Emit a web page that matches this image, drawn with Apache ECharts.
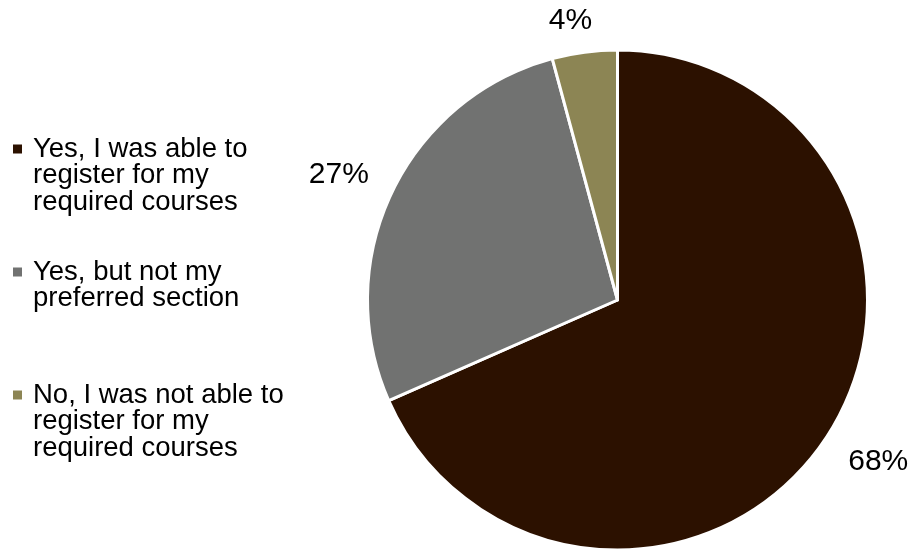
<!DOCTYPE html>
<html>
<head>
<meta charset="utf-8">
<script src="https://cdn.jsdelivr.net/npm/echarts@6/dist/echarts.min.js"></script>
<style>
  html, body { margin: 0; padding: 0; background: #fff; }
  #chart { width: 911px; height: 552px; }
</style>
</head>
<body>
<div id="chart"></div>
<script>
// ---- data ----
const categories = [
  'Yes, I was able to\nregister for my\nrequired courses',
  'Yes, but not my\npreferred section',
  'No, I was not able to\nregister for my\nrequired courses'
];
const values = [68.4, 27.4, 4.2];
const colors = ['#2C1100', '#717271', '#8C8554'];

// ---- layout constants ----
const CX = 617.5, CY = 300, R = 250;
const FONT = 'Liberation Sans, Arial, sans-serif';
const LABEL_GAP = 22;
const labelNudge = [[5, -5], [-3, 7], [-9, 8]];

const total = values.reduce((a, b) => a + b, 0);
const midAngles = [];
{
  let acc = 0;
  values.forEach(v => {
    const a0 = acc / total * 2 * Math.PI;
    acc += v;
    const a1 = acc / total * 2 * Math.PI;
    midAngles.push((a0 + a1) / 2);
  });
}

const rich = {
  g: { width: 11 },
  ind: { width: 20 },
  t: { fontSize: 27.5, lineHeight: 26.5, color: '#000', fontFamily: FONT }
};
colors.forEach((c, i) => {
  rich['m' + i] = { width: 9, height: 9, backgroundColor: c, verticalAlign: 'middle' };
});

const chart = echarts.init(document.getElementById('chart'), null, { renderer: 'canvas' });
chart.setOption({
  animation: false,
  backgroundColor: '#fff',
  color: colors,
  legend: {
    orient: 'vertical',
    left: 8,
    top: 135,
    padding: 0,
    itemGap: 42,
    itemWidth: 0,
    itemHeight: 0,
    icon: 'none',
    selectedMode: false,
    data: categories,
    formatter: function (name) {
      const idx = categories.indexOf(name);
      const lines = name.split('\n');
      let s = '{m' + idx + '|}{g|}{t|' + lines[0] + '}';
      for (let k = 1; k < lines.length; k++) s += '\n{ind|}{t|' + lines[k] + '}';
      for (let k = lines.length; k < 3; k++) s += '\n{t| }';
      return s;
    },
    textStyle: { rich: rich }
  },
  series: [{
    type: 'pie',
    center: [CX, CY],
    radius: R,
    startAngle: 90,
    clockwise: true,
    avoidLabelOverlap: false,
    silent: true,
    itemStyle: { borderColor: '#fff', borderWidth: 3 },
    label: {
      show: true,
      position: 'outside',
      fontSize: 30,
      fontFamily: FONT,
      color: '#000',
      formatter: p => Math.round(p.percent) + '%'
    },
    labelLine: { show: false },
    labelLayout: function (params) {
      const i = params.dataIndex;
      const a = midAngles[i];
      const dx = Math.sin(a), dy = -Math.cos(a);
      const w = params.labelRect.width, h = params.labelRect.height;
      const dist = R + LABEL_GAP + Math.abs(dx) * w / 2 + Math.abs(dy) * h / 2;
      return {
        x: CX + dx * dist + labelNudge[i][0],
        y: CY + dy * dist + labelNudge[i][1],
        align: 'center',
        verticalAlign: 'middle'
      };
    },
    emphasis: { disabled: true },
    data: categories.map((n, i) => ({ name: n, value: values[i] }))
  }]
});
</script>
</body>
</html>
